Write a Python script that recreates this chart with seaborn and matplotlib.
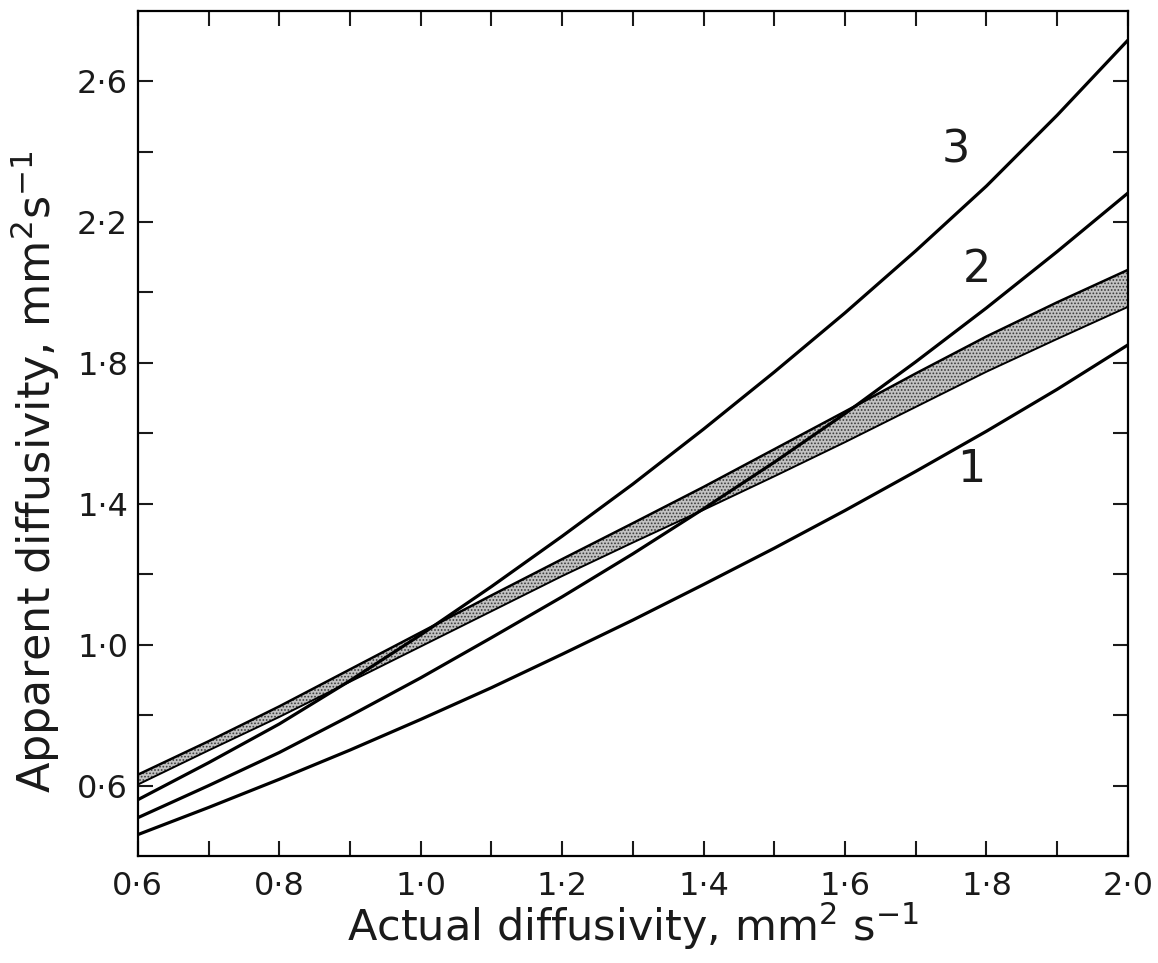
import matplotlib
matplotlib.use("Agg")
import matplotlib.pyplot as plt
import seaborn as sns

# values, every 0.1 mm2/s of actual diffusivity
actual = [0.6, 0.7, 0.8, 0.9, 1.0, 1.1, 1.2, 1.3, 1.4, 1.5, 1.6, 1.7, 1.8, 1.9, 2.0]
curve1 = [0.461, 0.538, 0.618, 0.701, 0.788, 0.878, 0.973, 1.070, 1.171, 1.274,
          1.381, 1.492, 1.606, 1.725, 1.851]
curve2 = [0.509, 0.600, 0.694, 0.798, 0.906, 1.020, 1.136, 1.258, 1.386, 1.518,
          1.656, 1.803, 1.956, 2.116, 2.282]
curve3 = [0.560, 0.665, 0.775, 0.898, 1.028, 1.165, 1.308, 1.456, 1.612, 1.774,
          1.942, 2.118, 2.302, 2.503, 2.716]
band_upper = [0.631, 0.726, 0.825, 0.930, 1.035, 1.140, 1.243, 1.345, 1.448, 1.555,
              1.662, 1.770, 1.875, 1.972, 2.064]
band_lower = [0.603, 0.700, 0.795, 0.895, 0.995, 1.095, 1.195, 1.290, 1.383, 1.478,
              1.575, 1.675, 1.775, 1.868, 1.959]

curve_names = ["1", "2", "3"]
label_pos = [(1.778, 1.496), (1.786, 2.064), (1.757, 2.404)]

xtick_major = [0.6, 0.8, 1.0, 1.2, 1.4, 1.6, 1.8, 2.0]
xtick_labels = ["0·6", "0·8", "1·0", "1·2", "1·4", "1·6", "1·8", "2·0"]
xtick_minor = [0.7, 0.9, 1.1, 1.3, 1.5, 1.7, 1.9]
ytick_major = [0.6, 1.0, 1.4, 1.8, 2.2, 2.6]
ytick_labels = ["0·6", "1·0", "1·4", "1·8", "2·2", "2·6"]
ytick_minor = [0.8, 1.2, 1.6, 2.0, 2.4]

sns.set_theme(style="ticks")
plt.rcParams["font.family"] = ["DejaVu Sans"]
plt.rcParams["mathtext.default"] = "regular"
plt.rcParams["hatch.linewidth"] = 0.8
plt.rcParams["hatch.color"] = "#3a3a3a"
plt.rcParams["text.color"] = "#1a1a1a"
plt.rcParams["axes.labelcolor"] = "#1a1a1a"
plt.rcParams["xtick.color"] = "#1a1a1a"
plt.rcParams["ytick.color"] = "#1a1a1a"

fig = plt.figure(figsize=(11.58, 9.63), dpi=100)
ax = fig.add_axes([0.119, 0.111, 0.855, 0.878])

# shaded band
ax.fill_between(actual, band_lower, band_upper, facecolor="#c2c2c2",
                hatch=".....", edgecolor="#3a3a3a", linewidth=0)
sns.lineplot(x=actual, y=band_upper, color="black", linewidth=1.8, ax=ax)
sns.lineplot(x=actual, y=band_lower, color="black", linewidth=1.4, ax=ax)

for ys in (curve1, curve2, curve3):
    sns.lineplot(x=actual, y=ys, color="black", linewidth=2.3, ax=ax)

for name, (lx, ly) in zip(curve_names, label_pos):
    ax.text(lx, ly, name, fontsize=32, ha="center", va="center")

ax.set_xlim(0.6, 2.0)
ax.set_ylim(0.4, 2.8)
ax.set_xticks(xtick_major)
ax.set_xticklabels(xtick_labels)
ax.set_xticks(xtick_minor, minor=True)
ax.set_yticks(ytick_major)
ax.set_yticklabels(ytick_labels)
ax.set_yticks(ytick_minor, minor=True)
ax.tick_params(which="both", direction="in", top=True, right=True,
               length=11, width=1.5, labelsize=23)
ax.tick_params(axis="x", pad=11)
ax.tick_params(axis="y", pad=7)

for sp in ax.spines.values():
    sp.set_linewidth(1.6)
    sp.set_color("black")

ax.set_xlabel(r"Actual diffusivity, mm$^2$ s$^{-1}$", fontsize=31)
ax.set_ylabel(r"Apparent diffusivity, mm$^2$s$^{-1}$", fontsize=32)
ax.xaxis.set_label_coords(0.5, -0.052)
ax.yaxis.set_label_coords(-0.077, 0.455)

fig.savefig("out.png", dpi=100)
